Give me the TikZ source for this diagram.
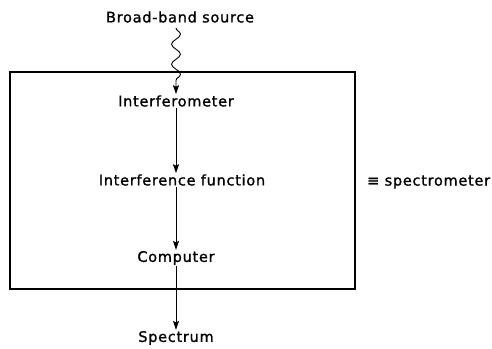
\documentclass[tikz,border=0pt]{standalone}
\usepackage{fontspec}
\setmainfont{DejaVu Sans}[LetterSpace=5,FakeBold=1.2]
\usetikzlibrary{arrows.meta,decorations.pathmorphing}
\begin{document}
\begin{tikzpicture}[x=1pt,y=-1pt,
  lbl/.style={font=\fontsize{14.5}{17}\selectfont, inner sep=1pt},
  tip/.style={-{Stealth[length=9pt,width=6pt,inset=1.5pt]}},
  arr/.style={tip, line width=0.8pt},
  frame/.style={line width=1.2pt}]
\useasboundingbox (0,0) rectangle (492,348);
\draw[frame] (10,72) rectangle (355,289);
\node[lbl] (src) at (180,17) {Broad-band source};
\node[lbl] (ifm) at (176,101) {Interferometer};
\node[lbl] (iff) at (182,180) {Interference function};
\node[lbl] (cmp) at (176,258) {Computer};
\node[lbl] (spc) at (176,338) {Spectrum};
\node[lbl, anchor=west] (eq) at (366,182) {≡ spectrometer};
\draw[tip, line width=0.9pt, decorate, decoration={snake, amplitude=4.5pt, segment length=20pt, post length=8pt}] (176,28) -- (ifm.north -| 176,0);
\draw[arr] (ifm.south -| 176,0) -- (iff.north -| 176,0);
\draw[arr] (iff.south -| 176,0) -- (cmp.north -| 176,0);
\draw[arr] (cmp.south -| 176,0) -- (spc.north -| 176,0);
\end{tikzpicture}
\end{document}
